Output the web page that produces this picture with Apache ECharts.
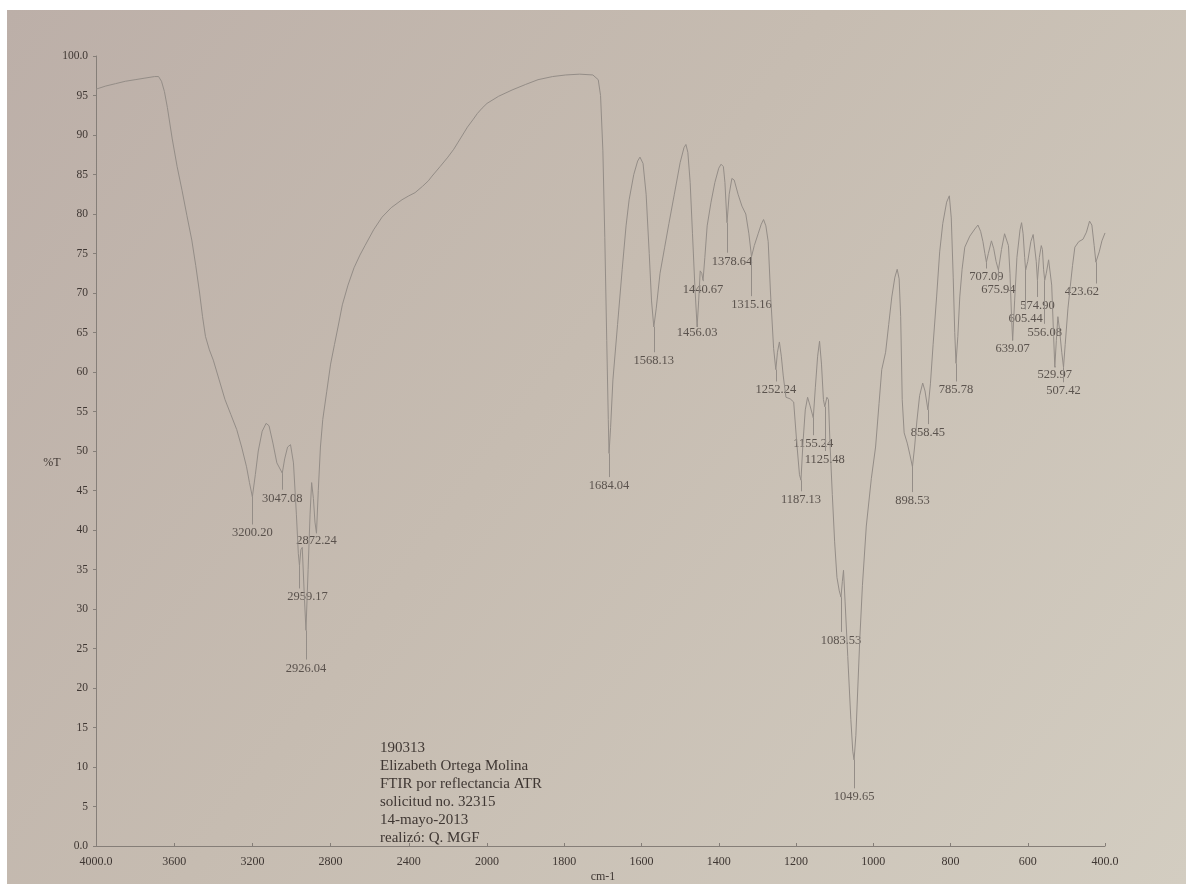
<!DOCTYPE html>
<html>
<head>
<meta charset="utf-8">
<title>FTIR 190313</title>
<script src="https://cdn.jsdelivr.net/npm/echarts@6/dist/echarts.min.js"></script>
<style>
  html, body { margin: 0; padding: 0; background: #ffffff; }
  #chart { width: 1190px; height: 884px; }
</style>
</head>
<body>
<div id="chart"></div>
<script>
// espectro 4000 -> 2000 cm-1 (escala comprimida)
const hiWave = [4000, 3950, 3900, 3850, 3800, 3750, 3700, 3680, 3665, 3650, 3635, 3610, 3585, 3560, 3535, 3510, 3490, 3470, 3455, 3440, 3420, 3400, 3370, 3340, 3310, 3280, 3255, 3230, 3215, 3200.20, 3185, 3170, 3150, 3130, 3115, 3095, 3075, 3047.08, 3035, 3020, 3005, 2990, 2975, 2965, 2959.17, 2952, 2945, 2935, 2926.04, 2915, 2905, 2897, 2888, 2880, 2872.24, 2863, 2852, 2840, 2820, 2800, 2780, 2762, 2740, 2711, 2680, 2650, 2624, 2580, 2537, 2490, 2435, 2400, 2368, 2330, 2300, 2281, 2240, 2200, 2170, 2150, 2125, 2100, 2070, 2050, 2025, 2000];
const hiT = [95.8, 96.2, 96.5, 96.8, 97.0, 97.2, 97.4, 97.4, 96.8, 95.5, 93.5, 89.5, 86, 83, 79.8, 76.7, 73.5, 70, 67, 64.5, 62.8, 61.5, 59, 56.5, 54.6, 52.7, 50.5, 48, 46, 44.2, 47, 50, 52.5, 53.5, 53.2, 51, 48.5, 47.2, 49, 50.5, 50.8, 48.5, 42, 37, 35.5, 37.5, 37.8, 32, 27.3, 35, 42, 46, 44, 41, 39.6, 45, 50.5, 54, 57.5, 61, 63.5, 65.7, 68.5, 71, 73.2, 74.8, 76, 78, 79.6, 80.8, 81.8, 82.3, 82.7, 83.5, 84.2, 84.8, 86, 87.2, 88.2, 89, 90, 91, 92, 92.7, 93.4, 94.0];

// espectro 2000 -> 400 cm-1
const loWave = [2000, 1970, 1935, 1900, 1868, 1830, 1796, 1760, 1726, 1712, 1706, 1700, 1695, 1690, 1686, 1684.04, 1680, 1674, 1662, 1650, 1640, 1632, 1620, 1610, 1604, 1596, 1588, 1580, 1574, 1568.13, 1562, 1552, 1540, 1529, 1515, 1500, 1490, 1485, 1480, 1474, 1468, 1462, 1456.03, 1452, 1448, 1444, 1440.67, 1436, 1430, 1420, 1410, 1400, 1394, 1388, 1384, 1378.64, 1373, 1366, 1360, 1350, 1340, 1330, 1322, 1315.16, 1308, 1298, 1290, 1284, 1278, 1272, 1266, 1258, 1252.24, 1248, 1243, 1238, 1233, 1226, 1215, 1206, 1198, 1191, 1187.13, 1182, 1176, 1170, 1164, 1155.24, 1150, 1144, 1139, 1134, 1129, 1125.48, 1120, 1116, 1112, 1106, 1100, 1094, 1088, 1083.53, 1080, 1077, 1073, 1066, 1058, 1053, 1049.65, 1045, 1040, 1035, 1028, 1018, 1005, 994, 985, 978, 968, 960, 952, 944, 938, 933, 929, 925, 920, 912, 905, 898.53, 893, 887, 880, 872, 866, 858.45, 852, 845, 836, 828, 820, 810, 803, 798, 793, 789, 785.78, 781, 776, 770, 763, 750, 737, 729, 722, 716, 711, 707.09, 702, 694, 688, 682, 675.94, 668, 660, 655, 650, 646, 642, 639.07, 634, 628, 620, 616, 612, 608, 605.44, 600, 592, 586, 582, 578, 574.90, 570, 565, 562, 559, 556.08, 552, 546, 542, 538, 533, 529.97, 526, 522, 518, 512, 507.42, 503, 496, 490, 484, 478, 468, 457, 448, 440, 434, 428, 423.62, 415, 408, 400];
const loT = [94.0, 94.9, 95.7, 96.4, 97.0, 97.4, 97.6, 97.7, 97.6, 97.0, 95, 88, 77, 64, 54, 49.7, 53, 59, 66, 73, 78.5, 81.8, 85, 86.7, 87.2, 86.4, 82.5, 75, 69, 65.7, 68, 72.5, 75.8, 78.8, 82.5, 86.5, 88.4, 88.8, 87.8, 84, 77.5, 71, 65.7, 69, 72.8, 72.5, 71.6, 74.5, 78.5, 81.5, 84, 85.8, 86.3, 86, 84, 78.9, 82.5, 84.5, 84.3, 82.5, 81, 80, 77.5, 74.6, 76, 77.5, 78.7, 79.3, 78.5, 76.5, 70, 63, 60.3, 62.5, 63.8, 62, 59.5, 56.8, 56.6, 56.2, 51, 47, 46.3, 51, 55.2, 56.8, 55.8, 54.2, 58, 62, 63.9, 61, 56.5, 55.6, 56.8, 56.5, 51, 44.5, 38.5, 34, 32.3, 31.5, 33.5, 34.9, 31, 24, 16, 12, 10.9, 14, 20, 26, 33, 40.5, 46.5, 50.5, 56, 60.3, 62.5, 66, 69.5, 72, 73, 71.8, 67, 56.5, 52.3, 51, 49.5, 48, 50.5, 53.8, 57, 58.6, 57.6, 55.2, 58.5, 63.5, 69.5, 75.2, 78.8, 81.5, 82.3, 79.5, 72, 65, 61.1, 64.5, 69.5, 73, 75.8, 77.2, 78.1, 78.6, 77.8, 76.5, 75, 73.9, 75, 76.6, 75.6, 74, 72.9, 75.5, 77.5, 77.7, 76, 72.5, 67, 64, 69, 74.5, 78, 78.9, 77.5, 74.5, 72.9, 74, 76.5, 77.4, 77.3, 74, 71.6, 74.5, 76, 75.5, 73, 71.6, 72.5, 74.2, 74.4, 71, 64.5, 60.6, 64, 67, 65.5, 62.5, 60.6, 63.5, 68, 70.8, 73.5, 75.8, 76.5, 76.8, 77.7, 79.1, 78.6, 76, 73.9, 75.2, 76.6, 77.6];

// picos marcados y altura (%T) donde va la etiqueta
const peakWave = [3200.20, 3047.08, 2959.17, 2926.04, 2872.24, 1684.04, 1568.13, 1456.03, 1440.67, 1378.64, 1315.16, 1252.24, 1187.13, 1155.24, 1125.48, 1083.53, 1049.65, 898.53, 858.45, 785.78, 707.09, 675.94, 639.07, 605.44, 574.90, 556.08, 529.97, 507.42, 423.62];
const peakLabelT = [39.6, 44, 31.5, 22.5, 38.6, 45.6, 61.4, 65, 70.4, 74, 68.5, 57.7, 43.8, 50.9, 48.9, 26, 6.2, 43.7, 52.3, 57.7, 72, 70.4, 63, 66.8, 68.4, 65, 59.6, 57.6, 70.1];

// texto de la muestra
const notes = ["190313", "Elizabeth Ortega Molina", "FTIR por reflectancia ATR", "solicitud no. 32315", "14-mayo-2013", "realizó: Q. MGF"];

const lineColor = "#948d87";
const axisColor = "#857e78";
const textColor = "#3f3733";
const serif = "'Liberation Serif', 'DejaVu Serif', serif";

// desplazamiento horizontal de algunas etiquetas (px)
const labelDx = { "2959.17": 8, "423.62": -14, "1378.64": 5 };

function troughT(w) {
  let i = hiWave.indexOf(w);
  if (i >= 0) return hiT[i];
  i = loWave.indexOf(w);
  return loT[i];
}

function peakParts(isHigh) {
  const lines = [];
  const labels = [];
  peakWave.forEach((w, i) => {
    if ((w > 2000) !== isHigh) return;
    const key = w.toFixed(2);
    lines.push([
      { coord: [w, troughT(w)] },
      { coord: [w, peakLabelT[i] + 1.1] }
    ]);
    labels.push({
      value: [w, peakLabelT[i]],
      label: { offset: [labelDx[key] || 0, 0] }
    });
  });
  return { lines, labels };
}

function spectrumSeries(idx, waves, vals) {
  const parts = peakParts(idx === 0);
  return [
    {
      type: "line",
      xAxisIndex: idx,
      yAxisIndex: idx,
      data: waves.map((w, i) => [w, vals[i]]),
      symbol: "none",
      lineStyle: { color: lineColor, width: 1 },
      clip: true,
      markLine: {
        silent: true,
        symbol: ["none", "none"],
        label: { show: false },
        lineStyle: { color: lineColor, width: 1, type: "solid" },
        data: parts.lines
      }
    },
    {
      type: "scatter",
      xAxisIndex: idx,
      yAxisIndex: idx,
      symbolSize: 0,
      data: parts.labels,
      label: {
        show: true,
        position: "inside",
        formatter: p => p.value[0].toFixed(2),
        fontFamily: serif,
        fontSize: 12.5,
        color: textColor
      }
    }
  ];
}

const xLabel = {
  margin: 10,
  fontFamily: serif,
  fontSize: 12,
  color: textColor
};

const chart = echarts.init(document.getElementById("chart"));
chart.setOption({
  animation: false,
  graphic: [
    {
      type: "rect",
      z: -10,
      silent: true,
      shape: { x: 7, y: 10, width: 1179, height: 874 },
      style: {
        fill: new echarts.graphic.LinearGradient(0, 0, 1, 1, [
          { offset: 0, color: "#bcafa8" },
          { offset: 0.45, color: "#c6bcb1" },
          { offset: 1, color: "#d3cdc1" }
        ])
      }
    },
    {
      type: "text",
      left: 380,
      top: 739,
      silent: true,
      style: {
        text: notes.join("\n"),
        font: "15px " + serif,
        lineHeight: 18,
        fill: textColor
      }
    },
    {
      type: "text",
      x: 603,
      y: 877,
      silent: true,
      style: {
        text: "cm-1",
        font: "12px " + serif,
        fill: textColor,
        textAlign: "center",
        textVerticalAlign: "middle"
      }
    },
    {
      type: "text",
      x: 52,
      y: 463,
      silent: true,
      style: {
        text: "%T",
        font: "12px " + serif,
        fill: textColor,
        textAlign: "center",
        textVerticalAlign: "middle"
      }
    }
  ],
  grid: [
    { left: 96, top: 56, width: 391, bottom: 38 },
    { left: 487, top: 56, right: 85, bottom: 38 }
  ],
  xAxis: [
    {
      gridIndex: 0,
      type: "value",
      inverse: true,
      min: 2000,
      max: 4000,
      interval: 400,
      axisLine: { show: true, lineStyle: { color: axisColor, width: 1 } },
      axisTick: { show: true, inside: true, length: 3, lineStyle: { color: axisColor } },
      splitLine: { show: false },
      axisLabel: Object.assign({}, xLabel, {
        formatter: v => (v === 4000 ? "4000.0" : String(v))
      })
    },
    {
      gridIndex: 1,
      type: "value",
      inverse: true,
      min: 400,
      max: 2000,
      interval: 200,
      axisLine: { show: true, lineStyle: { color: axisColor, width: 1 } },
      axisTick: { show: true, inside: true, length: 3, lineStyle: { color: axisColor } },
      splitLine: { show: false },
      axisLabel: Object.assign({}, xLabel, {
        formatter: v => (v === 2000 ? "" : v === 400 ? "400.0" : String(v))
      })
    }
  ],
  yAxis: [
    {
      gridIndex: 0,
      type: "value",
      min: 0,
      max: 100,
      interval: 5,
      axisLine: { show: true, lineStyle: { color: axisColor, width: 1 } },
      axisTick: { show: true, length: 3, lineStyle: { color: axisColor } },
      splitLine: { show: false },
      axisLabel: {
        margin: 8,
        fontFamily: serif,
        fontSize: 11.5,
        color: textColor,
        formatter: v => (v === 0 || v === 100 ? v.toFixed(1) : String(v))
      }
    },
    { gridIndex: 1, type: "value", min: 0, max: 100, show: false }
  ],
  series: [
    ...spectrumSeries(0, hiWave, hiT),
    ...spectrumSeries(1, loWave, loT)
  ]
});
</script>
</body>
</html>
